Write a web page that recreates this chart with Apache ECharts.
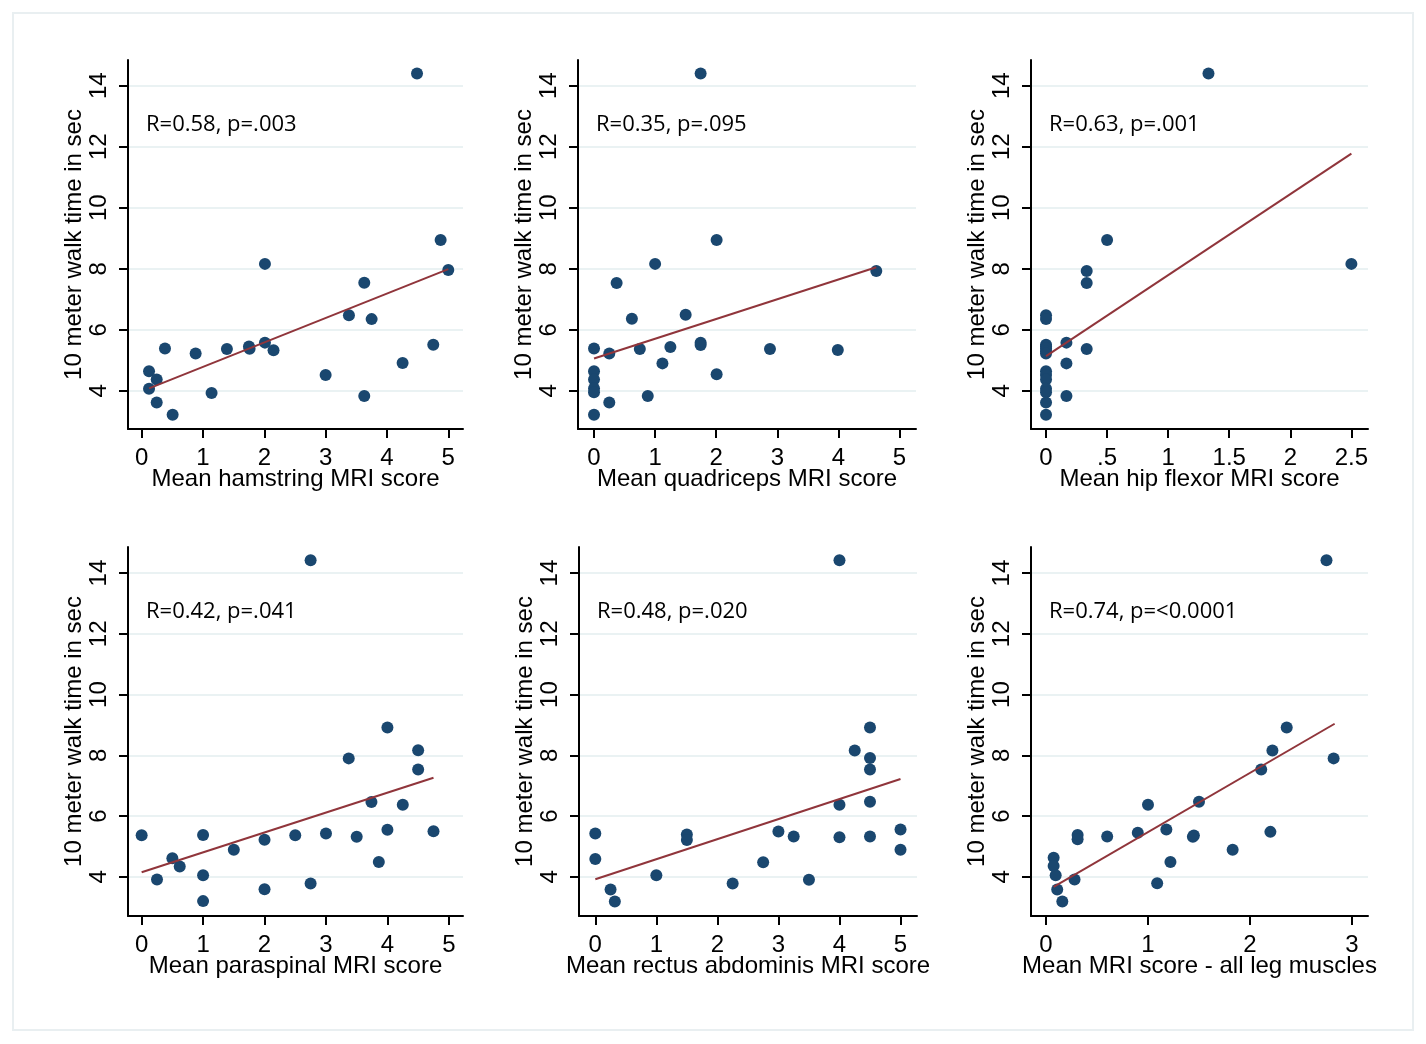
<!DOCTYPE html>
<html><head><meta charset="utf-8">
<script src="https://cdn.jsdelivr.net/npm/echarts@6/dist/echarts.min.js"></script>
<style>html,body{margin:0;padding:0;background:#fff}#c{width:1426px;height:1044px}</style>
</head><body><div id="c"></div><script>
// ---------- DATA ----------
const yTitle = '10 meter walk time in sec';
const yTicks = [4, 6, 8, 10, 12, 14];
const yTickLabels = ['4', '6', '8', '10', '12', '14'];

const xTicks05 = [0, 1, 2, 3, 4, 5];
const xTickLabels05 = ['0', '1', '2', '3', '4', '5'];
const xTicksHip = [0, 0.5, 1, 1.5, 2, 2.5];
const xTickLabelsHip = ['0', '.5', '1', '1.5', '2', '2.5'];
const xTicksAll = [0, 1, 2, 3];
const xTickLabelsAll = ['0', '1', '2', '3'];

const xTitles = ['Mean hamstring MRI score', 'Mean quadriceps MRI score', 'Mean hip flexor MRI score',
  'Mean paraspinal MRI score', 'Mean rectus abdominis MRI score', 'Mean MRI score - all leg muscles'];
const statLabels = ['R=0.58, p=.003', 'R=0.35, p=.095', 'R=0.63, p=.001',
  'R=0.42, p=.041', 'R=0.48, p=.020', 'R=0.74, p=<0.0001'];

const hamstringX = [4.49, 4.875, 5.0, 2.01, 3.63, 3.38, 3.75, 4.755, 4.255, 3.0, 3.63, 2.01, 2.15, 1.75, 1.76, 1.39, 0.88, 0.38, 0.12, 0.245, 0.12, 0.245, 0.505, 1.14];
const hamstringY = [14.40, 8.94, 7.96, 8.16, 7.54, 6.48, 6.35, 5.51, 4.91, 4.52, 3.83, 5.58, 5.33, 5.45, 5.38, 5.37, 5.22, 5.39, 4.64, 4.37, 4.07, 3.62, 3.22, 3.93];
const hamstringFit = [[0.12, 4.08], [5.0, 7.99]];

const quadX = [1.745, 2.007, 4.62, 1.0, 0.37, 0.62, 1.50, 0, 0.25, 0.75, 1.25, 1.745, 1.745, 2.88, 3.99, 1.12, 2.007, 0, 0, 0, 0, 0.88, 0.25, 0];
const quadY = [14.40, 8.94, 7.93, 8.16, 7.53, 6.36, 6.49, 5.39, 5.22, 5.37, 5.44, 5.58, 5.50, 5.37, 5.34, 4.90, 4.54, 4.64, 4.37, 4.08, 3.95, 3.83, 3.62, 3.22];
const quadFit = [[0, 5.06], [4.62, 8.05]];

const hipX = [1.33, 0.5, 0.333, 0.333, 2.5, 0, 0, 0.167, 0.167, 0.333, 0.167, 0, 0, 0, 0, 0, 0, 0, 0, 0, 0, 0, 0];
const hipY = [14.40, 8.94, 7.93, 7.53, 8.16, 6.48, 6.35, 5.58, 4.90, 5.37, 3.83, 5.51, 5.45, 5.39, 5.30, 5.22, 4.64, 4.52, 4.37, 4.07, 3.95, 3.62, 3.22];
const hipFit = [[0, 5.14], [2.5, 11.77]];

const paraX = [2.75, 4.0, 4.5, 4.5, 3.37, 3.74, 4.25, 0, 1.0, 2.0, 2.5, 3.0, 3.5, 4.0, 4.75, 1.5, 0.5, 0.62, 3.86, 0.25, 1.0, 2.0, 2.75, 1.0];
const paraY = [14.42, 8.92, 8.17, 7.53, 7.90, 6.46, 6.37, 5.37, 5.38, 5.22, 5.37, 5.43, 5.32, 5.55, 5.50, 4.89, 4.61, 4.34, 4.49, 3.91, 4.05, 3.59, 3.78, 3.20];
const paraFit = [[0, 4.15], [4.75, 7.26]];

const rectusX = [4.0, 4.5, 4.25, 4.5, 4.5, 4.5, 4.0, 0, 0, 1.5, 1.5, 3.0, 3.25, 4.0, 4.5, 5.0, 5.0, 2.75, 3.5, 2.25, 1.0, 0.25, 0.32];
const rectusY = [14.42, 8.92, 8.16, 7.91, 7.53, 6.47, 6.37, 5.43, 4.59, 5.39, 5.21, 5.49, 5.33, 5.30, 5.33, 5.56, 4.89, 4.48, 3.90, 3.78, 4.05, 3.58, 3.19];
const rectusFit = [[0, 3.92], [5.0, 7.22]];

const allLegX = [2.75, 2.36, 2.22, 2.82, 2.11, 1.50, 1.0, 0.31, 0.31, 0.60, 0.90, 1.18, 1.44, 1.45, 2.20, 1.83, 1.22, 0.075, 0.075, 0.095, 0.28, 1.09, 0.11, 0.16];
const allLegY = [14.42, 8.92, 8.16, 7.90, 7.53, 6.47, 6.37, 5.38, 5.24, 5.33, 5.45, 5.56, 5.32, 5.36, 5.48, 4.89, 4.49, 4.63, 4.36, 4.05, 3.91, 3.79, 3.58, 3.19];
const allLegFit = [[0.075, 3.67], [2.83, 9.04]];

// ---------- LAYOUT ----------
const panels = [
  { xs: hamstringX, ys: hamstringY, fit: hamstringFit, ticks: xTicks05, labels: xTickLabels05, xmin: -0.223, xmax: 5.24, left: 128, width: 335, row: 0 },
  { xs: quadX, ys: quadY, fit: quadFit, ticks: xTicks05, labels: xTickLabels05, xmin: -0.262, xmax: 5.27, left: 578, width: 338, row: 0 },
  { xs: hipX, ys: hipY, fit: hipFit, ticks: xTicksHip, labels: xTickLabelsHip, xmin: -0.123, xmax: 2.636, left: 1031, width: 337, row: 0 },
  { xs: paraX, ys: paraY, fit: paraFit, ticks: xTicks05, labels: xTickLabels05, xmin: -0.222, xmax: 5.23, left: 128, width: 335, row: 1 },
  { xs: rectusX, ys: rectusY, fit: rectusFit, ticks: xTicks05, labels: xTickLabels05, xmin: -0.267, xmax: 5.27, left: 579, width: 338, row: 1 },
  { xs: allLegX, ys: allLegY, fit: allLegFit, ticks: xTicksAll, labels: xTickLabelsAll, xmin: -0.147, xmax: 3.157, left: 1031, width: 337, row: 1 }
];
const rows = [{ top: 60, height: 369, ymin: 2.75, ymax: 14.84 }, { top: 547, height: 369, ymin: 2.71, ymax: 14.86 }];

const axisFont = 'Liberation Sans, Arial, sans-serif';
const fs = 24;
const grids = [], xAxes = [], yAxes = [], series = [], titles = [];

function labelFor(ticks, labels) {
  return function (v) {
    for (let i = 0; i < ticks.length; i++) if (Math.abs(ticks[i] - v) < 1e-6) return labels[i];
    return '';
  };
}

panels.forEach((p, i) => {
  const r = rows[p.row];
  grids.push({ left: p.left, top: r.top, width: p.width, height: r.height, containLabel: false });
  xAxes.push({
    gridIndex: i, type: 'value', min: p.xmin, max: p.xmax,
    name: xTitles[i], nameLocation: 'middle', nameGap: 38, nameMoveOverlap: false,
    nameTextStyle: { fontSize: fs, fontFamily: axisFont, color: '#000' },
    axisLine: { show: true, onZero: false, lineStyle: { color: '#000', width: 2 } },
    axisTick: { show: true, length: 9, customValues: p.ticks, lineStyle: { color: '#000', width: 2 } },
    axisLabel: { show: true, customValues: p.ticks, formatter: labelFor(p.ticks, p.labels), fontSize: fs, fontFamily: axisFont, color: '#000', margin: 17 },
    splitLine: { show: false }
  });
  yAxes.push({
    gridIndex: i, type: 'value', min: r.ymin, max: r.ymax,
    name: yTitle, nameLocation: 'middle', nameGap: 42, nameMoveOverlap: false,
    nameTextStyle: { fontSize: fs, fontFamily: axisFont, color: '#000' },
    axisLine: { show: true, onZero: false, lineStyle: { color: '#000', width: 2 } },
    axisTick: { show: true, length: 9, customValues: yTicks, lineStyle: { color: '#000', width: 2 } },
    axisLabel: { show: true, customValues: yTicks, formatter: labelFor(yTicks, yTickLabels), rotate: 90, fontSize: fs, fontFamily: axisFont, color: '#000', margin: 17 },
    splitLine: { show: true, lineStyle: { color: '#eaf2f3', width: 2 } }
  });
  series.push({
    type: 'scatter', xAxisIndex: i, yAxisIndex: i, symbol: 'circle', symbolSize: 12,
    itemStyle: { color: '#1a476f', opacity: 1 },
    data: p.xs.map((x, k) => [x, p.ys[k]]), z: 3, silent: true
  });
  series.push({
    type: 'line', xAxisIndex: i, yAxisIndex: i, symbol: 'none',
    lineStyle: { color: '#90353b', width: 2 }, data: p.fit, z: 4, silent: true
  });
  titles.push({
    text: statLabels[i], left: p.left + 13, top: r.top + 49,
    textStyle: { fontSize: 22, fontWeight: 'normal', fontFamily: 'Open Sans, Noto Sans, sans-serif', color: '#000' }
  });
});

const chart = echarts.init(document.getElementById('c'), null, { renderer: 'canvas' });
chart.setOption({
  backgroundColor: '#fff',
  animation: false,
  title: titles,
  grid: grids,
  xAxis: xAxes,
  yAxis: yAxes,
  series: series,
  graphic: [{
    type: 'rect', shape: { x: 13, y: 13, width: 1400, height: 1017 },
    style: { fill: 'none', stroke: '#e9eff1', lineWidth: 2 }, silent: true
  }]
});
</script></body></html>
